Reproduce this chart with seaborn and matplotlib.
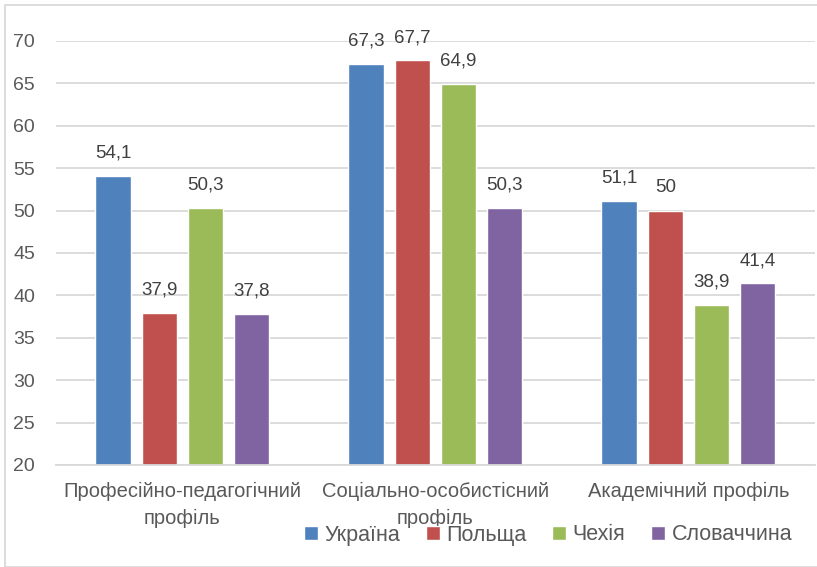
import seaborn as sns
import matplotlib.pyplot as plt
import pandas as pd
from matplotlib.patches import Rectangle

categories = ['Професійно-педагогічний\nпрофіль',
              'Соціально-особистісний\nпрофіль',
              'Академічний профіль']
countries = ['Україна', 'Польща', 'Чехія', 'Словаччина']
ukraine = [54.1, 67.3, 51.1]
poland = [37.9, 67.7, 50.0]
czechia = [50.3, 64.9, 38.9]
slovakia = [37.8, 50.3, 41.4]
colors = ['#4f81bd', '#c0504d', '#9bbb59', '#8064a2']

rows = []
for country, vals in zip(countries, [ukraine, poland, czechia, slovakia]):
    for cat, v in zip(categories, vals):
        rows.append({'cat': cat, 'country': country, 'value': v})
df = pd.DataFrame(rows)

sns.set_theme(style='white')
plt.rcParams['font.family'] = ['Liberation Sans', 'DejaVu Sans']

fig = plt.figure(figsize=(8.17, 5.67), dpi=100)
ax = fig.add_axes([0.0685, 0.18, 0.929, 0.7477])

sns.barplot(data=df, x='cat', y='value', hue='country', order=categories,
            hue_order=countries, palette=colors, width=0.73, gap=0.23,
            saturation=1, ax=ax, legend=True)

ax.set_ylim(20, 70)
ax.set_xlim(-0.5, 2.5)
ax.set_yticks(range(20, 71, 5))
ax.yaxis.grid(True, color='#d9d9d9', linewidth=1.3)
ax.set_axisbelow(True)
for s in ['top', 'left', 'right']:
    ax.spines[s].set_visible(False)
ax.spines['bottom'].set_color('#d9d9d9')
ax.spines['bottom'].set_linewidth(1.3)
ax.tick_params(axis='y', length=0, pad=15, labelsize=14, labelcolor='#595959')
ax.tick_params(axis='x', length=0, pad=12, labelsize=14.5, labelcolor='#595959')
for t in ax.get_xticklabels():
    t.set_linespacing(1.55)
ax.set_xlabel('')
ax.set_ylabel('')

# value labels above bars
for container in ax.containers:
    for rect in container:
        h = rect.get_height()
        txt = ('%g' % h).replace('.', ',')
        ax.annotate(txt, (rect.get_x() + rect.get_width() / 2, h),
                    xytext=(0, 16.5), textcoords='offset points',
                    ha='center', va='center', fontsize=13.5, color='#404040',
                    clip_on=False, annotation_clip=False)

handles, labels = ax.get_legend_handles_labels()
ax.get_legend().remove()
fig.legend(handles, labels, loc='center', bbox_to_anchor=(548 / 817, 1 - 535 / 567),
           ncol=4, frameon=False, fontsize=15.5, handlelength=0.65, handleheight=0.65,
           handletextpad=0.3, columnspacing=1.2, labelcolor='#595959')

fig.patches.append(Rectangle((5 / 817, 0), 1, 1 - 5 / 567, transform=fig.transFigure,
                             fill=False, edgecolor='#d9d9d9', linewidth=1.3))

fig.savefig('out.png', dpi=100)
